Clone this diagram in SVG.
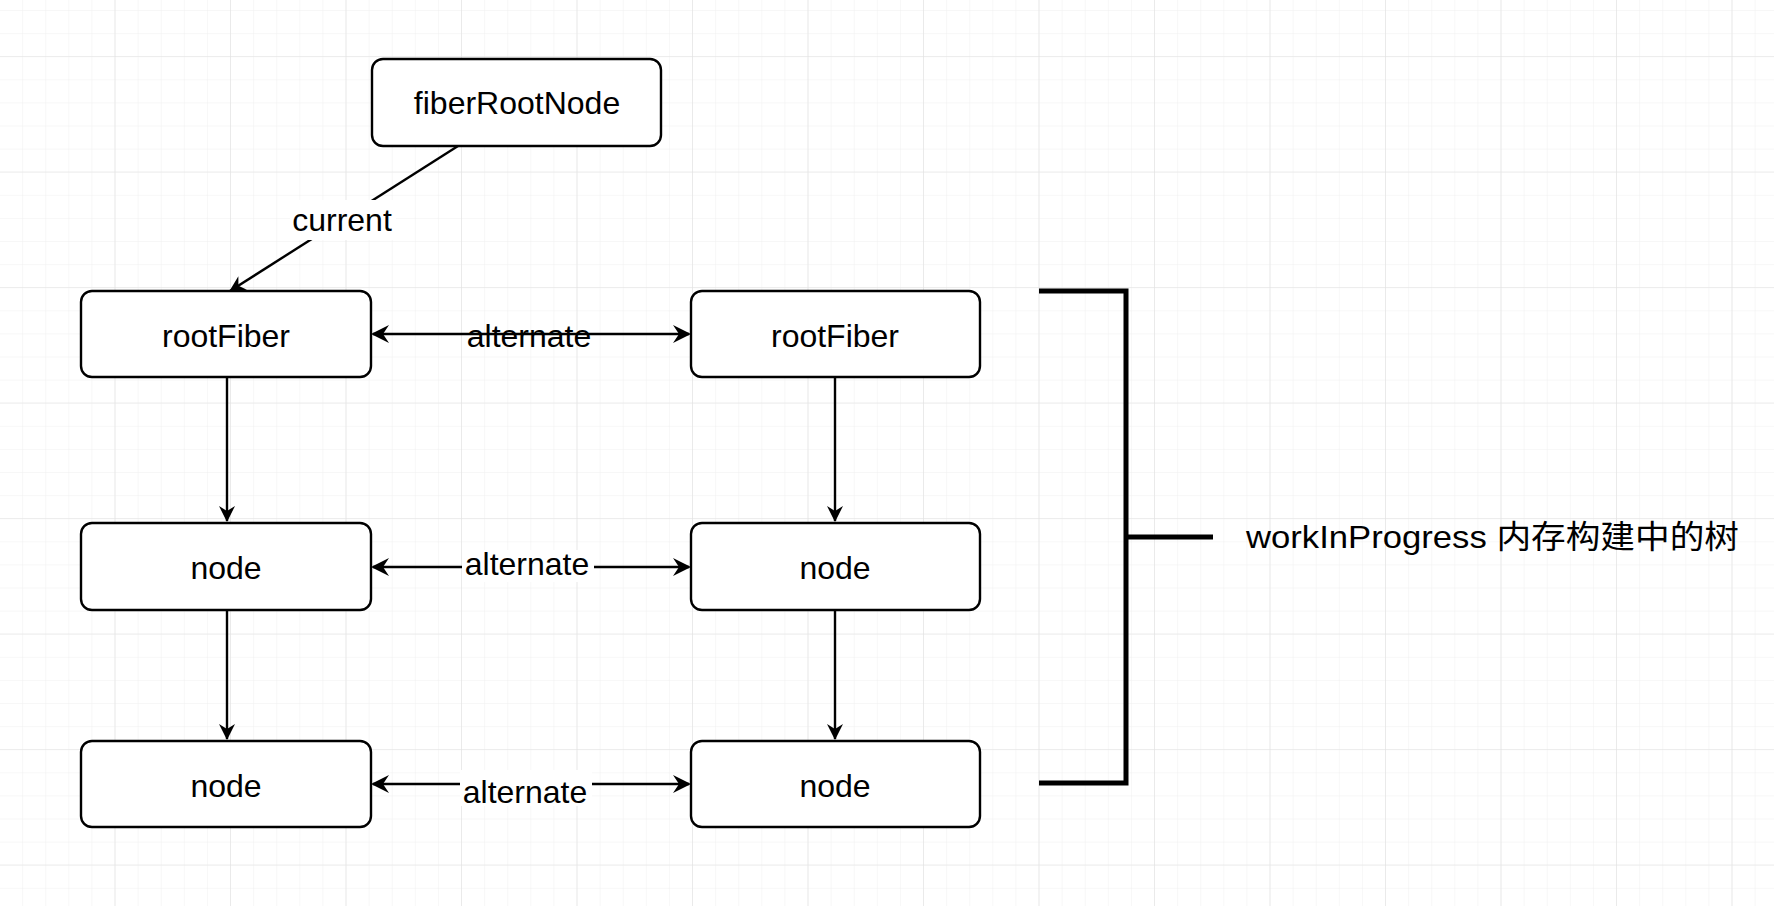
<svg xmlns="http://www.w3.org/2000/svg" width="1774" height="906" viewBox="0 0 1774 906">
<defs>
<pattern id="g" width="23.1" height="23.1" patternUnits="userSpaceOnUse" x="0" y="11"><path d="M23.1 0V23.1H0" fill="none" stroke="#efefef" stroke-width="1"/></pattern>
<pattern id="G" width="115.5" height="115.5" patternUnits="userSpaceOnUse" x="0" y="57"><path d="M115.5 0V115.5H0" fill="none" stroke="#e2e2e2" stroke-width="1.2"/></pattern>
<marker id="a" markerWidth="16" markerHeight="18" refX="15" refY="8" orient="auto-start-reverse" markerUnits="userSpaceOnUse"><path d="M0 0L16 8L0 16L5 8Z" fill="#000"/></marker>
<marker id="b" markerWidth="18" markerHeight="18" refX="16" refY="9" orient="auto-start-reverse" markerUnits="userSpaceOnUse"><path d="M0 0L18 9L0 18L6 9Z" fill="#000"/></marker>
</defs>
<style>
.n rect{fill:#fff;stroke:#000;stroke-width:2.4}
text{font-family:"Liberation Sans","Noto Sans CJK SC",sans-serif;font-size:32px;fill:#000}
.c{text-anchor:middle}
.l{stroke:#000;stroke-width:2.4;fill:none}
</style>
<rect width="1774" height="906" fill="#fff"/>
<rect width="1774" height="906" fill="url(#g)"/>
<rect width="1774" height="906" fill="url(#G)"/>
<g id="connectors">
<path class="l" d="M458 146L230 291" marker-end="url(#a)"/>
<path class="l" d="M373 334H689" marker-start="url(#b)" marker-end="url(#b)"/>
<path class="l" d="M373 567H689" marker-start="url(#b)" marker-end="url(#b)"/>
<path class="l" d="M373 784H689" marker-start="url(#b)" marker-end="url(#b)"/>
<path class="l" d="M227 377V521" marker-end="url(#a)"/>
<path class="l" d="M227 610V739" marker-end="url(#a)"/>
<path class="l" d="M835 377V521" marker-end="url(#a)"/>
<path class="l" d="M835 610V739" marker-end="url(#a)"/>
<rect x="290" y="200" width="106" height="40" fill="#fff"/>
<text class="c" x="342" y="231">current</text>
<text class="c" x="529" y="347">alternate</text>
<rect x="462" y="550" width="132" height="32" fill="#fff"/>
<text class="c" x="527" y="575">alternate</text>
<rect x="460" y="770" width="132" height="36" fill="#fff"/>
<text class="c" x="525" y="803">alternate</text>
</g>
<g id="fiberRootNode" class="n"><rect x="372" y="59" width="289" height="87" rx="11"/><text class="c" x="517" y="114">fiberRootNode</text></g>
<g id="rootFiberL" class="n"><rect x="81" y="291" width="290" height="86" rx="11"/><text class="c" x="226" y="347">rootFiber</text></g>
<g id="rootFiberR" class="n"><rect x="691" y="291" width="289" height="86" rx="11"/><text class="c" x="835" y="347">rootFiber</text></g>
<g id="nodeL1" class="n"><rect x="81" y="523" width="290" height="87" rx="11"/><text class="c" x="226" y="579">node</text></g>
<g id="nodeR1" class="n"><rect x="691" y="523" width="289" height="87" rx="11"/><text class="c" x="835" y="579">node</text></g>
<g id="nodeL2" class="n"><rect x="81" y="741" width="290" height="86" rx="11"/><text class="c" x="226" y="797">node</text></g>
<g id="nodeR2" class="n"><rect x="691" y="741" width="289" height="86" rx="11"/><text class="c" x="835" y="797">node</text></g>
<g id="bracket">
<path d="M1039 291H1126V783H1039M1126 537H1213" fill="none" stroke="#000" stroke-width="5"/>
<text x="1246" y="548" textLength="493" lengthAdjust="spacingAndGlyphs">workInProgress 内存构建中的树</text>
</g>
</svg>
